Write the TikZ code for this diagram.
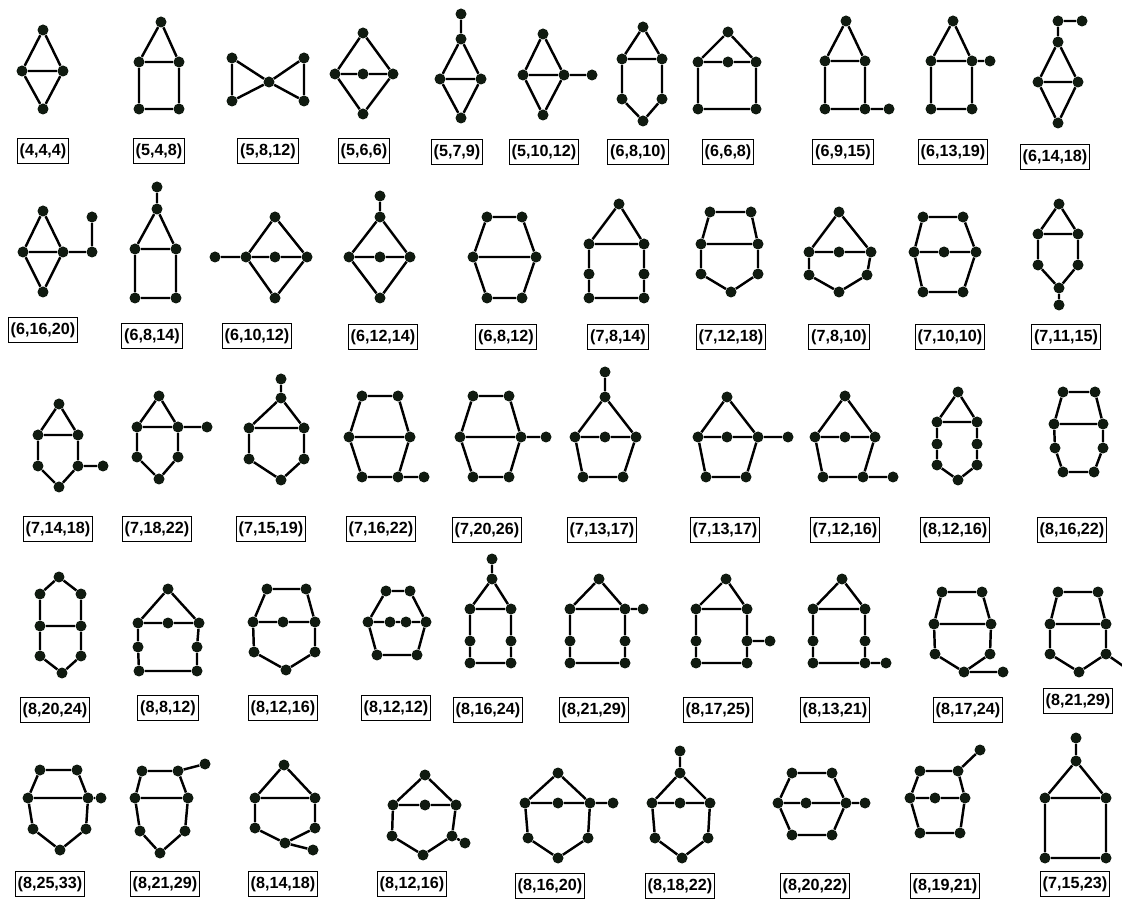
\documentclass[tikz,border=0pt]{standalone}
\usepackage{fontspec}
\setmainfont{Liberation Sans}
\usetikzlibrary{positioning}
\definecolor{vcol}{RGB}{16,26,16}
\tikzset{
  vtx/.style={circle,fill=vcol,inner sep=0pt,minimum size=0.22cm},
  uedge/.style={line width=1.4pt},
  lbl/.style={draw,line width=0.6pt,inner xsep=1.4pt,inner ysep=0pt,minimum height=0.5cm,
    font=\fontsize{9.2}{10}\selectfont\bfseries}
}
\begin{document}
\begin{tikzpicture}[x=0.02cm,y=-0.02cm]
\useasboundingbox (0,0) rectangle (1122,901);
% row 1
\foreach \n/\x/\y in {t/43/30,l/22/71,r/63/71,b/43/109} \node[vtx] (g1\n) at (\x,\y) {};
\draw[uedge] (g1t)--(g1l)--(g1b)--(g1r)--(g1t) (g1l)--(g1r);
\node[lbl] (g1lab) at (43,151) {(4,4,4)};
\foreach \n/\x/\y in {t/161/22,l/139/62,r/179/62,bl/139/109,br/179/109} \node[vtx] (g2\n) at (\x,\y) {};
\draw[uedge] (g2t)--(g2l)--(g2bl)--(g2br)--(g2r)--(g2t) (g2l)--(g2r);
\node[lbl] (g2lab) at (159,151) {(5,4,8)};
\foreach \n/\x/\y in {tl/232/58,bl/232/101,c/269/82,tr/304/58,br/304/101} \node[vtx] (g3\n) at (\x,\y) {};
\draw[uedge] (g3tl)--(g3bl)--(g3c)--(g3tl) (g3c)--(g3tr)--(g3br)--(g3c);
\node[lbl] (g3lab) at (268,151) {(5,8,12)};
\foreach \n/\x/\y in {t/363/33,l/335/74,c/363/74,r/393/74,b/363/114} \node[vtx] (g4\n) at (\x,\y) {};
\draw[uedge] (g4t)--(g4l)--(g4b)--(g4r)--(g4t) (g4l)--(g4c)--(g4r);
\node[lbl] (g4lab) at (364,151) {(5,6,6)};
\foreach \n/\x/\y in {p/461/14,t/461/39,l/440/79,r/481/79,b/461/118} \node[vtx] (g5\n) at (\x,\y) {};
\draw[uedge] (g5p)--(g5t)--(g5l)--(g5b)--(g5r)--(g5t) (g5l)--(g5r);
\node[lbl] (g5lab) at (457,152) {(5,7,9)};
\foreach \n/\x/\y in {t/543/34,l/523/75,r/564/75,p/592/75,b/543/115} \node[vtx] (g6\n) at (\x,\y) {};
\draw[uedge] (g6t)--(g6l)--(g6b)--(g6r)--(g6t) (g6l)--(g6r)--(g6p);
\node[lbl] (g6lab) at (544,152) {(5,10,12)};
\foreach \n/\x/\y in {t/643/27,ml/622/59,mr/662/59,ll/622/99,lr/662/99,b/643/121} \node[vtx] (g7\n) at (\x,\y) {};
\draw[uedge] (g7t)--(g7ml)--(g7ll)--(g7b)--(g7lr)--(g7mr)--(g7t) (g7ml)--(g7mr);
\node[lbl] (g7lab) at (638,152) {(6,8,10)};
\foreach \n/\x/\y in {t/728/32,l/698/62,c/728/62,r/756/62,bl/698/109,br/756/109} \node[vtx] (g8\n) at (\x,\y) {};
\draw[uedge] (g8t)--(g8l)--(g8bl)--(g8br)--(g8r)--(g8t) (g8l)--(g8c)--(g8r);
\node[lbl] (g8lab) at (728,152) {(6,6,8)};
\foreach \n/\x/\y in {t/846/21,ml/825/61,mr/865/61,bl/825/109,br/865/109,p/889/109} \node[vtx] (g9\n) at (\x,\y) {};
\draw[uedge] (g9t)--(g9ml)--(g9bl)--(g9br)--(g9mr)--(g9t) (g9ml)--(g9mr) (g9br)--(g9p);
\node[lbl] (g9lab) at (843,152) {(6,9,15)};
\foreach \n/\x/\y in {t/953/21,ml/931/61,mr/972/61,p/990/61,bl/931/109,br/972/109} \node[vtx] (g10\n) at (\x,\y) {};
\draw[uedge] (g10t)--(g10ml)--(g10bl)--(g10br)--(g10mr)--(g10t) (g10ml)--(g10mr)--(g10p);
\node[lbl] (g10lab) at (953,152) {(6,13,19)};
\foreach \n/\x/\y in {q/1082/21,p/1058/21,t/1058/42,l/1038/82,r/1078/82,b/1058/123} \node[vtx] (g11\n) at (\x,\y) {};
\draw[uedge] (g11q)--(g11p)--(g11t)--(g11l)--(g11b)--(g11r)--(g11t) (g11l)--(g11r);
\node[lbl] (g11lab) at (1055,157) {(6,14,18)};
% row 2
\foreach \n/\x/\y in {t/43/211,l/23/252,r/63/252,p/92/252,q/92/217,b/43/292} \node[vtx] (g12\n) at (\x,\y) {};
\draw[uedge] (g12t)--(g12l)--(g12b)--(g12r)--(g12t) (g12l)--(g12r)--(g12p)--(g12q);
\node[lbl] (g12lab) at (43,330) {(6,16,20)};
\foreach \n/\x/\y in {p/157/187,t/157/209,ml/135/249,mr/176/249,bl/135/298,br/176/298} \node[vtx] (g13\n) at (\x,\y) {};
\draw[uedge] (g13p)--(g13t)--(g13ml)--(g13bl)--(g13br)--(g13mr)--(g13t) (g13ml)--(g13mr);
\node[lbl] (g13lab) at (152,336) {(6,8,14)};
\foreach \n/\x/\y in {p/215/257,l/246/257,c/275/257,r/307/257,t/275/217,b/275/298} \node[vtx] (g14\n) at (\x,\y) {};
\draw[uedge] (g14p)--(g14l)--(g14c)--(g14r) (g14l)--(g14t)--(g14r)--(g14b)--(g14l);
\node[lbl] (g14lab) at (257,336) {(6,10,12)};
\foreach \n/\x/\y in {p/380/196,t/380/217,l/349/257,c/380/257,r/410/257,b/380/298} \node[vtx] (g15\n) at (\x,\y) {};
\draw[uedge] (g15p)--(g15t)--(g15l)--(g15b)--(g15r)--(g15t) (g15l)--(g15c)--(g15r);
\node[lbl] (g15lab) at (383,337) {(6,12,14)};
\foreach \n/\x/\y in {tl/487/217,tr/522/217,l/473/257,r/536/257,bl/487/298,br/522/298} \node[vtx] (g16\n) at (\x,\y) {};
\draw[uedge] (g16tl)--(g16tr)--(g16r)--(g16br)--(g16bl)--(g16l)--(g16tl) (g16l)--(g16r);
\node[lbl] (g16lab) at (506,337) {(6,8,12)};
\foreach \n/\x/\y in {t/619/204,ml/589/244,mr/644/244,l2/589/274,r2/644/274,bl/589/298,br/644/298} \node[vtx] (g17\n) at (\x,\y) {};
\draw[uedge] (g17t)--(g17ml)--(g17l2)--(g17bl)--(g17br)--(g17r2)--(g17mr)--(g17t) (g17ml)--(g17mr);
\node[lbl] (g17lab) at (618,337) {(7,8,14)};
\foreach \n/\x/\y in {tl/710/212,tr/751/212,l/701/244,r/758/244,ll/701/274,lr/758/274,b/731/292} \node[vtx] (g18\n) at (\x,\y) {};
\draw[uedge] (g18tl)--(g18tr)--(g18r)--(g18lr)--(g18b)--(g18ll)--(g18l)--(g18tl) (g18l)--(g18r);
\node[lbl] (g18lab) at (731,337) {(7,12,18)};
\foreach \n/\x/\y in {t/839/212,l/809/252,c/839/252,r/871/252,ll/809/275,lr/867/275,b/839/292} \node[vtx] (g19\n) at (\x,\y) {};
\draw[uedge] (g19t)--(g19l)--(g19ll)--(g19b)--(g19lr)--(g19r)--(g19t) (g19l)--(g19c)--(g19r);
\node[lbl] (g19lab) at (839,337) {(7,8,10)};
\foreach \n/\x/\y in {tl/923/217,tr/963/217,l/914/252,c/944/252,r/976/252,bl/923/292,br/963/292} \node[vtx] (g20\n) at (\x,\y) {};
\draw[uedge] (g20tl)--(g20tr)--(g20r)--(g20br)--(g20bl)--(g20l)--(g20tl) (g20l)--(g20c)--(g20r);
\node[lbl] (g20lab) at (950,337) {(7,10,10)};
\foreach \n/\x/\y in {t/1059/204,ml/1038/234,mr/1078/234,ll/1038/265,lr/1078/265,b/1059/288,p/1059/305} \node[vtx] (g21\n) at (\x,\y) {};
\draw[uedge] (g21t)--(g21ml)--(g21ll)--(g21b)--(g21lr)--(g21mr)--(g21t) (g21ml)--(g21mr) (g21b)--(g21p);
\node[lbl] (g21lab) at (1066,337) {(7,11,15)};
% row 3
\foreach \n/\x/\y in {t/59/404,ml/38/435,mr/78/435,ll/38/466,lr/78/466,p/103/466,b/59/487} \node[vtx] (g22\n) at (\x,\y) {};
\draw[uedge] (g22t)--(g22ml)--(g22ll)--(g22b)--(g22lr)--(g22mr)--(g22t) (g22ml)--(g22mr) (g22lr)--(g22p);
\node[lbl] (g22lab) at (58,529) {(7,14,18)};
\foreach \n/\x/\y in {t/159/396,ml/137/427,mr/178/427,p/207/427,ll/137/457,lr/178/457,b/159/479} \node[vtx] (g23\n) at (\x,\y) {};
\draw[uedge] (g23t)--(g23ml)--(g23ll)--(g23b)--(g23lr)--(g23mr)--(g23t) (g23ml)--(g23mr)--(g23p);
\node[lbl] (g23lab) at (157,529) {(7,18,22)};
\foreach \n/\x/\y in {p/281/379,t/281/398,ml/249/428,mr/304/428,ll/249/459,lr/304/459,b/281/480} \node[vtx] (g24\n) at (\x,\y) {};
\draw[uedge] (g24p)--(g24t)--(g24ml)--(g24ll)--(g24b)--(g24lr)--(g24mr)--(g24t) (g24ml)--(g24mr);
\node[lbl] (g24lab) at (271,529) {(7,15,19)};
\foreach \n/\x/\y in {tl/362/396,tr/398/396,l/349/437,r/410/437,bl/362/477,br/398/477,p/424/477} \node[vtx] (g25\n) at (\x,\y) {};
\draw[uedge] (g25tl)--(g25tr)--(g25r)--(g25br)--(g25bl)--(g25l)--(g25tl) (g25l)--(g25r) (g25br)--(g25p);
\node[lbl] (g25lab) at (381,529) {(7,16,22)};
\foreach \n/\x/\y in {tl/473/396,tr/509/396,l/460/437,r/521/437,p/546/437,bl/473/477,br/509/477} \node[vtx] (g26\n) at (\x,\y) {};
\draw[uedge] (g26tl)--(g26tr)--(g26r)--(g26br)--(g26bl)--(g26l)--(g26tl) (g26l)--(g26r)--(g26p);
\node[lbl] (g26lab) at (487,530) {(7,20,26)};
\foreach \n/\x/\y in {p/605/372,t/605/397,l/575/437,c/605/437,r/636/437,bl/583/477,br/623/477} \node[vtx] (g27\n) at (\x,\y) {};
\draw[uedge] (g27p)--(g27t)--(g27l)--(g27bl)--(g27br)--(g27r)--(g27t) (g27l)--(g27c)--(g27r);
\node[lbl] (g27lab) at (602,530) {(7,13,17)};
\foreach \n/\x/\y in {t/727/397,l/698/437,c/727/437,r/758/437,p/788/437,bl/706/477,br/746/477} \node[vtx] (g28\n) at (\x,\y) {};
\draw[uedge] (g28t)--(g28l)--(g28bl)--(g28br)--(g28r)--(g28t) (g28l)--(g28c)--(g28r)--(g28p);
\node[lbl] (g28lab) at (725,530) {(7,13,17)};
\foreach \n/\x/\y in {t/845/396,l/815/437,c/845/437,r/875/437,bl/823/477,br/863/477,p/893/477} \node[vtx] (g29\n) at (\x,\y) {};
\draw[uedge] (g29t)--(g29l)--(g29bl)--(g29br)--(g29r)--(g29t) (g29l)--(g29c)--(g29r) (g29br)--(g29p);
\node[lbl] (g29lab) at (845,530) {(7,12,16)};
\foreach \n/\x/\y in {t/958/392,ml/937/422,mr/977/422,l2/937/444,r2/977/444,l3/937/465,r3/977/465,b/958/480} \node[vtx] (g30\n) at (\x,\y) {};
\draw[uedge] (g30t)--(g30ml)--(g30l2)--(g30l3)--(g30b)--(g30r3)--(g30r2)--(g30mr)--(g30t) (g30ml)--(g30mr);
\node[lbl] (g30lab) at (955,530) {(8,12,16)};
\foreach \n/\x/\y in {tl/1063/392,tr/1095/392,l/1054/424,r/1103/424,ll/1055/448,lr/1103/448,bl/1063/472,br/1094/472} \node[vtx] (g31\n) at (\x,\y) {};
\draw[uedge] (g31tl)--(g31tr)--(g31r)--(g31lr)--(g31br)--(g31bl)--(g31ll)--(g31l)--(g31tl) (g31l)--(g31r);
\node[lbl] (g31lab) at (1072,530) {(8,16,22)};
% row 4
\foreach \n/\x/\y in {t/59/577,tl/40/594,tr/81/594,ml/40/626,mr/81/626,ll/40/656,lr/81/656,b/62/673} \node[vtx] (g32\n) at (\x,\y) {};
\draw[uedge] (g32t)--(g32tl)--(g32ml)--(g32ll)--(g32b)--(g32lr)--(g32mr)--(g32tr)--(g32t) (g32ml)--(g32mr);
\node[lbl] (g32lab) at (55,710) {(8,20,24)};
\foreach \n/\x/\y in {t/168/589,l/138/623,c/168/623,r/199/623,l2/138/647,r2/197/647,bl/139/671,br/197/671} \node[vtx] (g33\n) at (\x,\y) {};
\draw[uedge] (g33t)--(g33l)--(g33l2)--(g33bl)--(g33br)--(g33r2)--(g33r)--(g33t) (g33l)--(g33c)--(g33r);
\node[lbl] (g33lab) at (168,708) {(8,8,12)};
\foreach \n/\x/\y in {tl/267/589,tr/306/589,l/253/622,c/283/622,r/315/622,ll/254/652,lr/315/652,b/286/670} \node[vtx] (g34\n) at (\x,\y) {};
\draw[uedge] (g34tl)--(g34tr)--(g34r)--(g34lr)--(g34b)--(g34ll)--(g34l)--(g34tl) (g34l)--(g34c)--(g34r);
\node[lbl] (g34lab) at (283,708) {(8,12,16)};
\foreach \n/\x/\y in {tl/386/591,tr/410/591,l/368/622,c1/390/622,c2/406/622,r/426/622,bl/377/655,br/417/655} \node[vtx] (g35\n) at (\x,\y) {};
\draw[uedge] (g35tl)--(g35tr)--(g35r)--(g35br)--(g35bl)--(g35l)--(g35tl) (g35l)--(g35c1)--(g35c2)--(g35r);
\node[lbl] (g35lab) at (396,708) {(8,12,12)};
\foreach \n/\x/\y in {p/492/559,t/492/579,ml/470/609,mr/511/609,l2/470/641,r2/511/641,bl/470/663,br/511/663} \node[vtx] (g36\n) at (\x,\y) {};
\draw[uedge] (g36p)--(g36t)--(g36ml)--(g36l2)--(g36bl)--(g36br)--(g36r2)--(g36mr)--(g36t) (g36ml)--(g36mr);
\node[lbl] (g36lab) at (488,710) {(8,16,24)};
\foreach \n/\x/\y in {t/599/579,ml/570/609,mr/625/609,p/643/609,l2/570/641,r2/625/641,bl/570/663,br/625/663} \node[vtx] (g37\n) at (\x,\y) {};
\draw[uedge] (g37t)--(g37ml)--(g37l2)--(g37bl)--(g37br)--(g37r2)--(g37mr)--(g37t) (g37ml)--(g37mr)--(g37p);
\node[lbl] (g37lab) at (594,710) {(8,21,29)};
\foreach \n/\x/\y in {t/726/579,ml/696/609,mr/747/609,l2/696/641,r2/747/641,p/770/641,bl/696/663,br/747/663} \node[vtx] (g38\n) at (\x,\y) {};
\draw[uedge] (g38t)--(g38ml)--(g38l2)--(g38bl)--(g38br)--(g38r2)--(g38mr)--(g38t) (g38ml)--(g38mr) (g38r2)--(g38p);
\node[lbl] (g38lab) at (718,710) {(8,17,25)};
\foreach \n/\x/\y in {t/842/579,ml/813/609,mr/865/609,l2/813/641,r2/865/641,bl/813/663,br/865/663,p/886/663} \node[vtx] (g39\n) at (\x,\y) {};
\draw[uedge] (g39t)--(g39ml)--(g39l2)--(g39bl)--(g39br)--(g39r2)--(g39mr)--(g39t) (g39ml)--(g39mr) (g39br)--(g39p);
\node[lbl] (g39lab) at (835,710) {(8,13,21)};
\foreach \n/\x/\y in {tl/942/592,tr/982/592,l/934/624,r/991/624,ll/935/654,lr/990/654,b/964/672,p/1003/672} \node[vtx] (g40\n) at (\x,\y) {};
\draw[uedge] (g40tl)--(g40tr)--(g40r)--(g40lr)--(g40b)--(g40ll)--(g40l)--(g40tl) (g40l)--(g40r) (g40b)--(g40p);
\node[lbl] (g40lab) at (968,710) {(8,17,24)};
\foreach \n/\x/\y in {tl/1058/592,tr/1098/592,l/1050/624,r/1106/624,ll/1050/654,lr/1106/654,b/1079/672} \node[vtx] (g41\n) at (\x,\y) {};
\coordinate (g41p) at (1126,668);
\draw[uedge] (g41tl)--(g41tr)--(g41r)--(g41lr)--(g41b)--(g41ll)--(g41l)--(g41tl) (g41l)--(g41r) (g41lr)--(g41p);
\node[lbl] (g41lab) at (1078,701) {(8,21,29)};
% row 5
\foreach \n/\x/\y in {tl/40/770,tr/77/770,l/28/798,r/88/798,p/101/798,ll/33/829,lr/86/829,b/60/850} \node[vtx] (g42\n) at (\x,\y) {};
\draw[uedge] (g42tl)--(g42tr)--(g42r)--(g42lr)--(g42b)--(g42ll)--(g42l)--(g42tl) (g42l)--(g42r)--(g42p);
\node[lbl] (g42lab) at (50,884) {(8,25,33)};
\foreach \n/\x/\y in {tl/142/771,tr/178/771,p/205/764,l/135/798,r/188/798,ll/140/831,lr/185/831,b/160/853} \node[vtx] (g43\n) at (\x,\y) {};
\draw[uedge] (g43tl)--(g43tr)--(g43r)--(g43lr)--(g43b)--(g43ll)--(g43l)--(g43tl) (g43l)--(g43r) (g43tr)--(g43p);
\node[lbl] (g43lab) at (165,884) {(8,21,29)};
\foreach \n/\x/\y in {t/284/765,ml/255/798,mr/315/798,ll/255/828,lr/315/828,b/285/843,p/313/850} \node[vtx] (g44\n) at (\x,\y) {};
\draw[uedge] (g44t)--(g44ml)--(g44ll)--(g44b)--(g44lr)--(g44mr)--(g44t) (g44ml)--(g44mr) (g44b)--(g44p);
\node[lbl] (g44lab) at (283,884) {(8,14,18)};
\foreach \n/\x/\y in {t/425/775,l/393/805,c/425/805,r/456/805,ll/392/836,lr/452/836,b/423/855,p/465/843} \node[vtx] (g45\n) at (\x,\y) {};
\draw[uedge] (g45t)--(g45l)--(g45ll)--(g45b)--(g45lr)--(g45r)--(g45t) (g45l)--(g45c)--(g45r) (g45lr)--(g45p);
\node[lbl] (g45lab) at (412,884) {(8,12,16)};
\foreach \n/\x/\y in {t/558/773,l/525/803,c/558/803,r/590/803,p/613/803,ll/528/838,lr/588/838,b/558/858} \node[vtx] (g46\n) at (\x,\y) {};
\draw[uedge] (g46t)--(g46l)--(g46ll)--(g46b)--(g46lr)--(g46r)--(g46t) (g46l)--(g46c)--(g46r)--(g46p);
\node[lbl] (g46lab) at (550,886) {(8,16,20)};
\foreach \n/\x/\y in {p/680/751,t/680/773,l/652/803,c/680/803,r/710/803,ll/655/838,lr/708/838,b/682/858} \node[vtx] (g47\n) at (\x,\y) {};
\draw[uedge] (g47p)--(g47t)--(g47l)--(g47ll)--(g47b)--(g47lr)--(g47r)--(g47t) (g47l)--(g47c)--(g47r);
\node[lbl] (g47lab) at (680,886) {(8,18,22)};
\foreach \n/\x/\y in {tl/792/773,tr/832/773,l/778/803,c/806/803,r/846/803,p/865/803,bl/792/835,br/832/835} \node[vtx] (g48\n) at (\x,\y) {};
\draw[uedge] (g48tl)--(g48tr)--(g48r)--(g48br)--(g48bl)--(g48l)--(g48tl) (g48l)--(g48c)--(g48r)--(g48p);
\node[lbl] (g48lab) at (815,886) {(8,20,22)};
\foreach \n/\x/\y in {tl/920/771,tr/958/771,p/980/750,l/910/798,c/935/798,r/965/798,bl/920/833,br/960/833} \node[vtx] (g49\n) at (\x,\y) {};
\draw[uedge] (g49tl)--(g49tr)--(g49r)--(g49br)--(g49bl)--(g49l)--(g49tl) (g49l)--(g49c)--(g49r) (g49tr)--(g49p);
\node[lbl] (g49lab) at (945,886) {(8,19,21)};
\foreach \n/\x/\y in {p/1076/738,t/1076/761,ml/1045/798,mr/1106/798,bl/1045/858,br/1106/858} \node[vtx] (g50\n) at (\x,\y) {};
\draw[uedge] (g50p)--(g50t)--(g50ml)--(g50bl)--(g50br)--(g50mr)--(g50t) (g50ml)--(g50mr);
\node[lbl] (g50lab) at (1075,884) {(7,15,23)};
\end{tikzpicture}
\end{document}
